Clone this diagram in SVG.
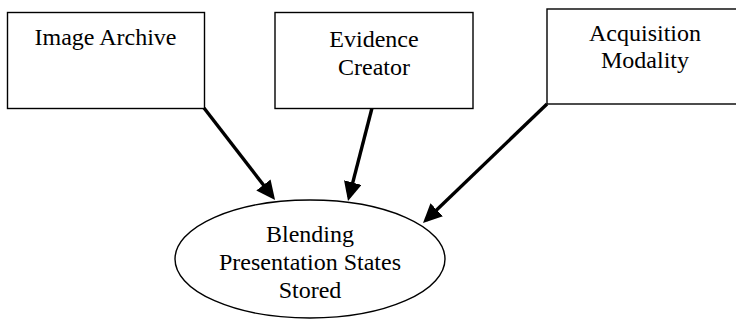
<svg xmlns="http://www.w3.org/2000/svg" width="736" height="320" viewBox="0 0 736 320">
<style>
.box{fill:#fff;stroke:#000;stroke-width:1.4}
.lbl{font-family:"Liberation Serif","Times New Roman",serif;font-size:24px;fill:#000;text-anchor:middle}
.conn{fill:none;stroke:#000;stroke-width:3.4}
</style>
<defs>
<marker id="ah" markerUnits="userSpaceOnUse" markerWidth="20" markerHeight="20" refX="15" refY="9" orient="auto">
<path d="M0,0 L19,9 L0,18 z" fill="#000"/>
</marker>
</defs>
<rect width="736" height="320" fill="#fff"/>
<g id="connectors">
<path class="conn" d="M204,108 L272.6,196.8" marker-end="url(#ah)"/>
<path class="conn" d="M372,108 L349,197.1" marker-end="url(#ah)"/>
<path class="conn" d="M547,104 L425.9,220.2" marker-end="url(#ah)"/>
</g>
<g id="image-archive">
<rect class="box" x="7.5" y="12.5" width="197" height="96"/>
<text class="lbl" x="105.5" y="45">Image Archive</text>
</g>
<g id="evidence-creator">
<rect class="box" x="275" y="12.5" width="198" height="96"/>
<text class="lbl" x="374" y="47">Evidence</text>
<text class="lbl" x="374" y="75">Creator</text>
</g>
<g id="acquisition-modality">
<rect class="box" x="547" y="9" width="200" height="95"/>
<text class="lbl" x="645" y="41">Acquisition</text>
<text class="lbl" x="645" y="68">Modality</text>
</g>
<g id="blending-ps-stored">
<ellipse class="box" cx="310" cy="259" rx="135" ry="59"/>
<text class="lbl" x="310" y="242">Blending</text>
<text class="lbl" x="310" y="270">Presentation States</text>
<text class="lbl" x="310" y="298">Stored</text>
</g>
</svg>
